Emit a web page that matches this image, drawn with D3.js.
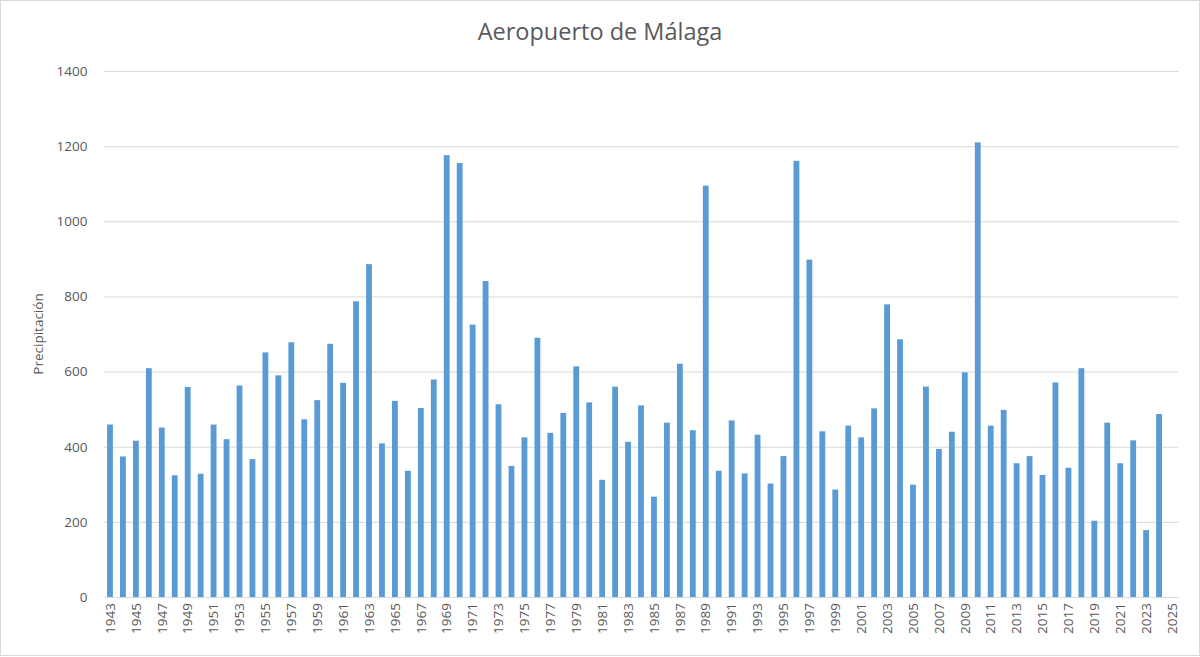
<!DOCTYPE html>
<html>
<head>
<meta charset="utf-8">
<script src="https://cdn.jsdelivr.net/npm/d3@7"></script>
<style>
  html, body { margin: 0; padding: 0; background: #fff; }
  svg { display: block; }
  text { font-family: "Open Sans", "Noto Sans", sans-serif; }
</style>
</head>
<body>
<svg id="chart" width="1200" height="657"></svg>
<script>
const title = "Aeropuerto de Málaga";
const yAxisLabel = "Precipitación";
const years = d3.range(1943, 2026).map(String);
const precipitation = [
  459, 374, 416, 609, 451, 324, 559, 328, 459, 420,
  563, 367, 651, 590, 678, 473, 524, 674, 570, 787,
  886, 409, 522, 336, 503, 579, 1176, 1155, 725, 841,
  513, 349, 425, 690, 437, 490, 614, 518, 312, 560,
  413, 510, 267, 464, 621, 444, 1095, 336, 470, 329,
  432, 302, 375, 1161, 898, 441, 286, 456, 425, 502,
  779, 686, 299, 560, 394, 440, 598, 1210, 456, 498,
  356, 375, 325, 571, 344, 609, 203, 464, 356, 417,
  178, 487, null
];
const yTicks = [0, 200, 400, 600, 800, 1000, 1200, 1400];
const xTickLabels = years.filter((d, i) => i % 2 === 0);

const svg = d3.select("#chart");
const W = 1200, H = 657;
const plotLeft = 103.5, plotRight = 1178.5, plotTop = 71, plotBottom = 597;

// frame
svg.append("rect").attr("x", 0.5).attr("y", 0.5).attr("width", W - 1).attr("height", H - 2)
  .attr("fill", "#fff").attr("stroke", "#d9d9d9").attr("stroke-width", 1);

const x = d3.scaleBand().domain(years).range([plotLeft, plotRight]).paddingInner(0.55).paddingOuter(0.275);
const y = d3.scaleLinear().domain([0, 1400]).range([plotBottom, plotTop]);

// gridlines
const yAxis = d3.axisLeft(y).tickValues(yTicks).tickSize(-(plotRight - plotLeft)).tickPadding(16).tickFormat(d3.format("d"));
const gy = svg.append("g").attr("transform", `translate(${plotLeft},0)`).call(yAxis);
gy.select(".domain").remove();
gy.selectAll(".tick line").attr("stroke", "#d9d9d9").attr("stroke-width", 1);
gy.selectAll(".tick text").attr("fill", "#595959").style("font-size", "13.5px");

// bars
svg.append("g").selectAll("rect")
  .data(years.map((yr, i) => ({ yr, v: precipitation[i] })).filter(d => d.v != null))
  .enter().append("rect")
  .attr("x", d => x(d.yr))
  .attr("width", x.bandwidth())
  .attr("y", d => y(d.v))
  .attr("height", d => y(0) - y(d.v))
  .attr("fill", "#5B9BD5");

// x axis
const xAxis = d3.axisBottom(x).tickValues(xTickLabels).tickSize(0).tickPadding(0);
const gx = svg.append("g").attr("transform", `translate(0,${plotBottom})`).call(xAxis);
gx.select(".domain").attr("stroke", "#d9d9d9");
gx.selectAll(".tick text")
  .attr("fill", "#595959").style("font-size", "13.5px")
  .attr("transform", "rotate(-90)")
  .attr("text-anchor", "end")
  .attr("x", -6).attr("y", 0).attr("dy", "0.35em");

// title
svg.append("text").attr("x", 600).attr("y", 40).attr("text-anchor", "middle")
  .attr("fill", "#595959").style("font-size", "23.5px").text(title);

// y label
svg.append("text").attr("transform", "translate(43,334) rotate(-90)").attr("text-anchor", "middle")
  .attr("fill", "#595959").style("font-size", "13.5px").text(yAxisLabel);
</script>
</body>
</html>
